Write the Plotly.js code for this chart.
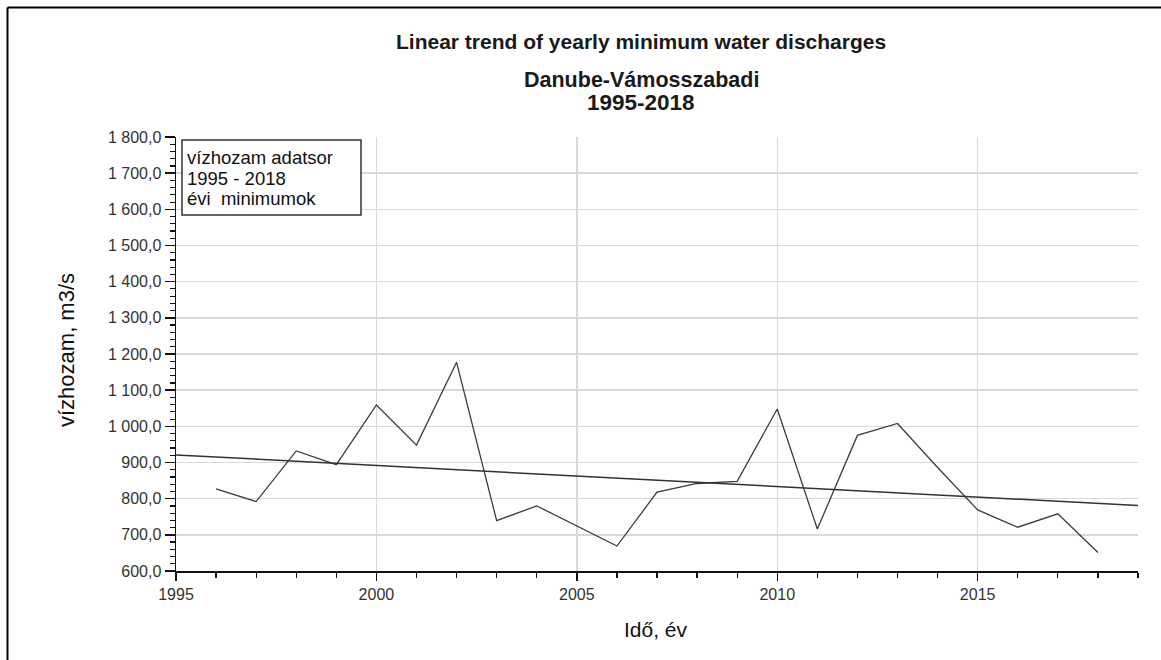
<!DOCTYPE html>
<html>
<head>
<meta charset="utf-8">
<script src="https://cdn.plot.ly/plotly-3.0.1.min.js"></script>
<style>
html,body{margin:0;padding:0;background:#fff;}
#chart{width:1161px;height:660px;}
</style>
</head>
<body>
<div id="chart"></div>
<script>
// Data
const years = [1996,1997,1998,1999,2000,2001,2002,2003,2004,2005,2006,2007,2008,2009,2010,2011,2012,2013,2014,2015,2016,2017,2018];
const discharge = [827,792,932,894,1059,948,1177,739,780,724,669,818,842,848,1048,716,975,1008,886,769,721,758,651];
const trendYears = [1995, 2019];
const trendValues = [921, 781];
const xTickVals = [1995,2000,2005,2010,2015];
const yRange = [600, 1800];
const xRange = [1995, 2019];
const titleLines = ["Linear trend of yearly minimum water discharges", "Danube-Vámosszabadi", "1995-2018"];
const legendLines = ["vízhozam adatsor", "1995 - 2018", "évi\u00A0 minimumok"];
const yTitle = "vízhozam, m3/s";
const xTitle = "Idő, év";

const L = 176, R = 23, T = 137, B = 89;
const W = 1161, H = 660;
const pw = W - L - R, ph = H - T - B;
const px = x => (x - L) / pw;
const py = y => 1 - (y - T) / ph;

const font = "Liberation Sans, Arial, sans-serif";

const traces = [
  {x: years, y: discharge, type: 'scatter', mode: 'lines',
   line: {color: '#3c3c3c', width: 1.3}, hoverinfo: 'x+y'},
  {x: trendYears, y: trendValues, type: 'scatter', mode: 'lines',
   line: {color: '#333', width: 1.5}, hoverinfo: 'x+y'}
];

const titleSizes = [21, 21.5, 22.5];
const titleY = [41, 80, 102];
const legendY = [157, 178, 199];

const annotations = [];
titleLines.forEach((t, i) => annotations.push({
  text: '<b>' + t + '</b>', xref: 'paper', yref: 'paper', x: px(641), y: py(titleY[i]),
  xanchor: 'center', yanchor: 'middle', showarrow: false,
  font: {size: titleSizes[i], color: '#1a1a1a', family: font}
}));
legendLines.forEach((t, i) => annotations.push({
  text: t, xref: 'paper', yref: 'paper', x: px(185), y: py(legendY[i]),
  xanchor: 'left', yanchor: 'middle', showarrow: false, align: 'left',
  font: {size: 18.5, color: '#111', family: font}
}));
annotations.push({text: yTitle, xref: 'paper', yref: 'paper', x: px(66), y: py(350), textangle: -90,
  xanchor: 'center', yanchor: 'middle', showarrow: false, font: {size: 22, color: '#111', family: font}});
annotations.push({text: xTitle, xref: 'paper', yref: 'paper', x: px(656), y: py(629),
  xanchor: 'center', yanchor: 'middle', showarrow: false, font: {size: 21, color: '#111', family: font}});

const layout = {
  width: W, height: H,
  margin: {l: L, r: R, t: T, b: B},
  paper_bgcolor: '#fff', plot_bgcolor: '#fff',
  showlegend: false,
  separators: ', ',
  font: {family: font, color: '#222', size: 16},
  xaxis: {
    range: xRange, tickvals: xTickVals, ticks: 'outside', ticklen: 8, tickwidth: 1.5, tickcolor: '#111',
    showline: true, linecolor: '#111', linewidth: 1.5, zeroline: false,
    showgrid: true, gridcolor: '#d9d9d9', gridwidth: 1.5,
    tickfont: {size: 16, color: '#333', family: font},
    minor: {dtick: 1, ticks: 'outside', ticklen: 5, tickwidth: 1.2, tickcolor: '#111', showgrid: false}
  },
  yaxis: {
    range: yRange, dtick: 100, tick0: 600, tickformat: ',.1f', ticks: 'outside', ticklen: 10, tickwidth: 1.5, tickcolor: '#111',
    showline: true, linecolor: '#111', linewidth: 1.5, zeroline: false,
    showgrid: true, gridcolor: '#d9d9d9', gridwidth: 1.5,
    tickfont: {size: 16, color: '#333', family: font},
    minor: {dtick: 20, ticks: 'outside', ticklen: 5, tickwidth: 1.2, tickcolor: '#111', showgrid: false}
  },
  shapes: [
    {type: 'line', xref: 'paper', yref: 'paper', x0: px(7.5), x1: px(1170), y0: py(7.5), y1: py(7.5), line: {color: '#000', width: 2}},
    {type: 'line', xref: 'paper', yref: 'paper', x0: px(7.5), x1: px(7.5), y0: py(7.5), y1: py(670), line: {color: '#000', width: 2}},
    {type: 'rect', xref: 'paper', yref: 'paper', x0: px(182), x1: px(361), y0: py(140), y1: py(215),
     line: {color: '#333', width: 1.5}, fillcolor: '#fff', layer: 'above'}
  ],
  annotations: annotations
};

Plotly.newPlot('chart', traces, layout, {staticPlot: true});
</script>
</body>
</html>
